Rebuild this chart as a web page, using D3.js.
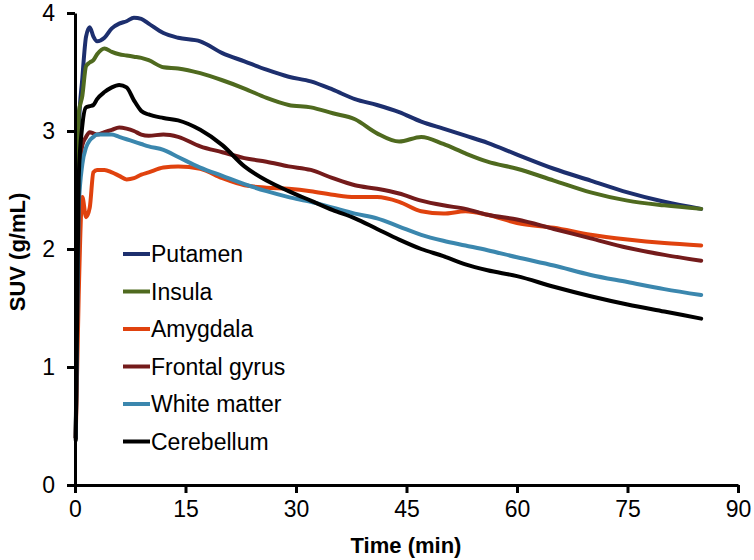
<!DOCTYPE html>
<html>
<head>
<meta charset="utf-8">
<script src="https://cdn.jsdelivr.net/npm/d3@7"></script>
<style>
  html, body { margin: 0; padding: 0; background: #fff; }
  svg { display: block; }
</style>
</head>
<body>
<div id="chart"></div>
<script>
// ---- data ----
const times = [0.1, 0.5, 1, 1.5, 2, 2.5, 3, 4, 5, 6, 7, 8, 9, 10, 12, 14, 17, 20, 23, 26, 29, 32, 35, 38, 41, 44, 47, 50, 53, 56, 60, 65, 70, 75, 80, 85];
const seriesNames = ["Putamen", "Insula", "Amygdala", "Frontal gyrus", "White matter", "Cerebellum"];
const putamen   = [0.4, 3.0, 3.45, 3.80, 3.88, 3.80, 3.76, 3.79, 3.87, 3.91, 3.93, 3.96, 3.95, 3.91, 3.83, 3.79, 3.76, 3.66, 3.59, 3.52, 3.46, 3.42, 3.35, 3.27, 3.22, 3.16, 3.08, 3.02, 2.96, 2.90, 2.80, 2.68, 2.58, 2.48, 2.40, 2.34];
const insula    = [0.4, 3.15, 3.30, 3.55, 3.58, 3.60, 3.65, 3.70, 3.67, 3.65, 3.64, 3.63, 3.62, 3.60, 3.54, 3.53, 3.49, 3.43, 3.36, 3.28, 3.22, 3.20, 3.15, 3.10, 2.98, 2.91, 2.95, 2.89, 2.81, 2.74, 2.68, 2.58, 2.48, 2.41, 2.37, 2.34];
const amygdala  = [0.4, 1.6, 2.44, 2.27, 2.35, 2.65, 2.67, 2.67, 2.65, 2.62, 2.59, 2.60, 2.63, 2.65, 2.69, 2.70, 2.68, 2.60, 2.54, 2.52, 2.51, 2.49, 2.46, 2.44, 2.44, 2.40, 2.32, 2.30, 2.32, 2.29, 2.22, 2.18, 2.12, 2.08, 2.05, 2.03];
const frontal   = [0.4, 2.5, 2.88, 2.95, 2.99, 2.98, 2.97, 2.99, 3.01, 3.03, 3.02, 3.00, 2.97, 2.96, 2.97, 2.95, 2.87, 2.82, 2.77, 2.74, 2.70, 2.67, 2.60, 2.54, 2.51, 2.47, 2.41, 2.37, 2.34, 2.29, 2.25, 2.17, 2.09, 2.01, 1.95, 1.90];
const white     = [0.4, 2.35, 2.72, 2.86, 2.92, 2.95, 2.97, 2.97, 2.97, 2.95, 2.93, 2.91, 2.89, 2.87, 2.84, 2.78, 2.69, 2.62, 2.55, 2.49, 2.44, 2.40, 2.35, 2.30, 2.26, 2.19, 2.12, 2.07, 2.03, 1.99, 1.93, 1.86, 1.78, 1.72, 1.66, 1.61];
const cerebellum= [0.38, 2.6, 3.05, 3.20, 3.21, 3.22, 3.27, 3.33, 3.37, 3.39, 3.37, 3.26, 3.17, 3.14, 3.11, 3.09, 3.01, 2.88, 2.70, 2.58, 2.49, 2.41, 2.33, 2.26, 2.17, 2.08, 2.00, 1.94, 1.87, 1.82, 1.77, 1.68, 1.60, 1.53, 1.47, 1.41];
const seriesValues = [putamen, insula, amygdala, frontal, white, cerebellum];
const seriesColors = ["#1d2f6e", "#4f6a1f", "#e0420e", "#741b1b", "#3b87ae", "#000000"];
const xTicks = [0, 15, 30, 45, 60, 75, 90];
const yTicks = [0, 1, 2, 3, 4];

// ---- chart ----
const W = 754, H = 560;
const svg = d3.select("#chart").append("svg").attr("width", W).attr("height", H);

const x = d3.scaleLinear().domain([0, 90]).range([75, 738]);
const y = d3.scaleLinear().domain([0, 4]).range([485, 13]);

const fontMain = "'Liberation Sans',Arial,sans-serif";

const line = d3.line()
  .x((d, i) => x(times[i]))
  .y(d => y(d))
  .curve(d3.curveMonotoneX);

svg.append("g").selectAll("path")
  .data(seriesValues)
  .join("path")
  .attr("d", d => line(d))
  .attr("fill", "none")
  .attr("stroke", (d, i) => seriesColors[i])
  .attr("stroke-width", 4)
  .attr("stroke-linejoin", "round")
  .attr("stroke-linecap", "round");

// axes
const xAxis = svg.append("g")
  .attr("transform", `translate(0,${y(0)})`)
  .call(d3.axisBottom(x).tickValues(xTicks).tickFormat(d3.format("d")).tickSize(8).tickPadding(8).tickSizeOuter(0));
const yAxis = svg.append("g")
  .attr("transform", `translate(${x(0)},0)`)
  .call(d3.axisLeft(y).tickValues(yTicks).tickFormat(d3.format("d")).tickSize(8).tickPadding(12).tickSizeOuter(0));

[xAxis, yAxis].forEach(g => {
  g.select(".domain").attr("stroke", "#000").attr("stroke-width", 3);
  g.selectAll(".tick line").attr("stroke", "#000").attr("stroke-width", 3);
  g.selectAll(".tick text")
    .attr("fill", "#000")
    .style("font-family", fontMain)
    .style("font-size", "23px");
});

// axis titles
svg.append("text")
  .attr("x", 406).attr("y", 553)
  .attr("text-anchor", "middle")
  .style("font-family", fontMain)
  .style("font-weight", "bold")
  .style("font-size", "22px")
  .text("Time (min)");

svg.append("text")
  .attr("transform", "translate(25,252) rotate(-90)")
  .attr("text-anchor", "middle")
  .style("font-family", fontMain)
  .style("font-weight", "bold")
  .style("font-size", "22px")
  .text("SUV (g/mL)");

// legend
const legend = svg.append("g");
const legY0 = 254, legStep = 37.5;
seriesNames.forEach((name, i) => {
  const yy = legY0 + i * legStep;
  legend.append("line")
    .attr("x1", 123).attr("x2", 150)
    .attr("y1", yy).attr("y2", yy)
    .attr("stroke", seriesColors[i])
    .attr("stroke-width", 4);
  legend.append("text")
    .attr("x", 151).attr("y", yy + 8)
    .style("font-family", fontMain)
    .style("font-size", "23px")
    .attr("fill", "#000")
    .text(name);
});
</script>
</body>
</html>
